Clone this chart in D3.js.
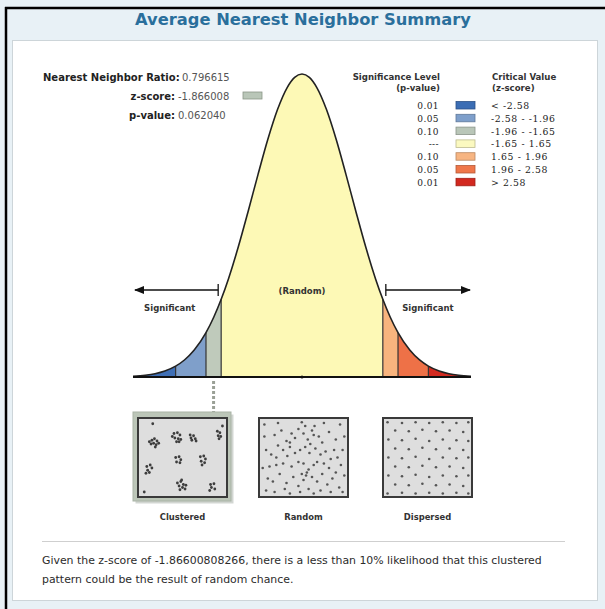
<!DOCTYPE html>
<html><head><meta charset="utf-8">
<script src="https://cdn.jsdelivr.net/npm/d3@7"></script>
<style>body{margin:0;background:#fff}svg{display:block}</style>
</head><body>
<svg id="c" width="605" height="609"></svg>
<script>
// ---------- DATA ----------
const title = "Average Nearest Neighbor Summary";
const statLabels = ["Nearest Neighbor Ratio:", "z-score:", "p-value:"];
const statValues = ["0.796615", "-1.866008", "0.062040"];
const zScore = -1.866008;
const zScoreText = "-1.86600808266";

// standard normal density table (z, density)
const curveZ = [-3.45,-3.2,-3.0,-2.8,-2.58,-2.4,-2.2,-1.96,-1.8,-1.65,-1.5,-1.3,-1.1,-0.9,-0.7,-0.5,-0.3,-0.15,0,
                0.15,0.3,0.5,0.7,0.9,1.1,1.3,1.5,1.65,1.8,1.96,2.2,2.4,2.58,2.8,3.0,3.2,3.45];
const curveD = [0.0010,0.0024,0.0044,0.0079,0.0143,0.0224,0.0355,0.0584,0.0790,0.1023,0.1295,0.1714,0.2179,0.2661,0.3123,0.3521,0.3814,0.3945,0.3989,
                0.3945,0.3814,0.3521,0.3123,0.2661,0.2179,0.1714,0.1295,0.1023,0.0790,0.0584,0.0355,0.0224,0.0143,0.0079,0.0044,0.0024,0.0010];

const bandLo = [-3.45,-2.58,-1.96,-1.65,1.65,1.96,2.58];
const bandHi = [-2.58,-1.96,-1.65,1.65,1.96,2.58,3.45];
const bandColors = ["#3f6fb5","#7f9fca","#bfcabb","#fdf9b6","#f8b47e","#ee7147","#d32a20"];
const swatchColors = ["#3b6db4","#7e9fcb","#b9c6b8","#fbf9c0","#f7b582","#ef774a","#d2281f"];
const pLevels = ["0.01","0.05","0.10","---","0.10","0.05","0.01"];
const critLabels = ["< -2.58","-2.58 - -1.96","-1.96 - -1.65","-1.65 - 1.65","1.65 - 1.96","1.96 - 2.58","> 2.58"];

const patternNames = ["Clustered","Random","Dispersed"];
const clusteredPts = [[15,5],[97,8],[5,96],
 [14,27],[17,25],[20,28],[16,31],[19,33],[22,31],[18,36],[13,32],[11,29],
 [40,18],[44,17],[47,20],[41,24],[45,25],[48,26],[43,29],[38,22],[46,29],
 [59,20],[63,21],[65,25],[61,27],[66,28],[60,24],
 [91,15],[94,17],[92,21],[95,22],[93,25],
 [42,50],[46,49],[48,53],[43,56],[47,57],
 [71,49],[75,48],[77,52],[72,55],[76,57],[73,60],
 [8,62],[12,60],[14,64],[9,67],[11,70],[7,71],
 [44,84],[48,82],[51,86],[46,88],[50,90],[53,92],[47,93],[54,87],[49,80],
 [83,86],[87,85],[84,90],[88,92],[82,94]];
const randomPts = [[4,6],[20,4],[48,3],[52,8],[60,14],[74,4],[93,6],[98,22],[4,22],[16,20],[24,14],[30,28],[36,18],[40,24],
 [44,12],[50,18],[55,26],[58,32],[62,20],[68,22],[72,30],[80,16],[88,26],[96,40],[6,40],[12,46],[20,34],[26,40],[34,36],
 [40,44],[46,40],[52,36],[57,44],[64,38],[70,46],[76,42],[82,52],[90,50],[94,60],[2,64],[10,62],[18,60],[26,58],[36,62],
 [44,56],[50,58],[56,66],[66,56],[74,58],[80,64],[88,70],[98,74],[8,78],[14,82],[22,72],[30,84],[38,76],[44,88],[50,80],
 [54,70],[60,76],[66,82],[72,72],[78,86],[84,78],[92,90],[6,94],[16,96],[28,92],[34,98],[46,96],[56,92],[62,98],[70,94],
 [82,96],[96,96],[31,48],[62,60],[86,40],[18,50],[48,72],[53,74],[34,30],[63,8]];
const dispersedPts = [[3,3],[20,4],[36,3],[52,4],[68,3],[84,4],[98,3],
 [12,14],[28,15],[44,13],[60,15],[76,14],[92,16],
 [4,26],[20,27],[36,25],[52,28],[68,26],[84,27],[98,28],
 [12,38],[28,39],[44,37],[60,39],[76,38],[92,40],
 [4,50],[20,51],[36,49],[52,52],[68,50],[84,51],[98,50],
 [12,62],[28,63],[44,61],[60,63],[76,62],[92,64],
 [4,74],[20,75],[36,73],[52,76],[68,74],[84,75],[98,74],
 [12,86],[28,87],[44,85],[60,87],[76,86],[92,88],
 [3,98],[20,97],[36,98],[52,97],[68,98],[84,97],[98,98]];

const footerLines = ["Given the z-score of " + zScoreText + ", there is a less than 10% likelihood that this clustered",
                     "pattern could be the result of random chance."];

// ---------- DRAW ----------
const svg = d3.select("#c");
const sans = "'DejaVu Sans', Verdana, sans-serif";
const serif = "'DejaVu Serif', 'Liberation Serif', serif";

svg.append("rect").attr("width",605).attr("height",609).attr("fill","#e8f1f6");
svg.append("line").attr("x1",5).attr("x2",605).attr("y1",8).attr("y2",8).attr("stroke","#000").attr("stroke-width",2.5);
svg.append("line").attr("x1",6).attr("x2",6).attr("y1",7).attr("y2",609).attr("stroke","#000").attr("stroke-width",2.5);
svg.append("rect").attr("x",12.5).attr("y",40.5).attr("width",585).attr("height",560)
  .attr("fill","#fff").attr("stroke","#cdd5d9");

svg.append("text").attr("x",303).attr("y",25).attr("text-anchor","middle")
  .attr("font-family",sans).attr("font-weight","bold").attr("font-size",16.3).attr("fill","#2a6f9c").text(title);

// stats
const statY = [81,100,119];
const fs = 10;
statLabels.forEach((l,i)=>{
  const t = svg.append("text").attr("y",statY[i]).attr("font-family",sans).attr("font-size",fs)
    .attr("font-weight","bold").attr("fill","#222").text(l);
  if(i===0){ t.attr("x",43); } else { t.attr("x",175).attr("text-anchor","end"); }
});
svg.append("text").attr("x",182).attr("y",statY[0]).attr("font-family",sans).attr("font-size",fs).attr("fill","#555").text(statValues[0]);
svg.append("text").attr("x",178).attr("y",statY[1]).attr("font-family",sans).attr("font-size",fs).attr("fill","#555").text(statValues[1]);
svg.append("text").attr("x",178).attr("y",statY[2]).attr("font-family",sans).attr("font-size",fs).attr("fill","#555").text(statValues[2]);
svg.append("rect").attr("x",243).attr("y",92).attr("width",19).attr("height",7)
  .attr("fill",swatchColors[2]).attr("stroke","#8a9688").attr("stroke-width",0.8);

// curve
const x = d3.scaleLinear().domain([-3.45,3.45]).range([133,471]);
const y = d3.scaleLinear().domain([0,0.3989]).range([377,74]);
const pts = curveZ.map((z,i)=>({z, d:curveD[i]}));
const area = d3.area().x(p=>x(p.z)).y0(y(0)).y1(p=>y(p.d)).curve(d3.curveMonotoneX);
const line = d3.line().x(p=>x(p.z)).y(p=>y(p.d)).curve(d3.curveMonotoneX);

bandLo.forEach((lo,i)=>{
  const hi = bandHi[i];
  const sub = pts.filter(p=>p.z>=lo-1e-9 && p.z<=hi+1e-9);
  svg.append("path").datum(sub).attr("d",area).attr("fill",bandColors[i]).attr("stroke","none");
});
[-2.58,-1.96,-1.65,1.65,1.96,2.58].forEach(z=>{
  const d = curveD[curveZ.indexOf(z)];
  svg.append("line").attr("x1",x(z)).attr("x2",x(z)).attr("y1",y(0)).attr("y2",y(d))
    .attr("stroke","#333").attr("stroke-width",1.2);
});
svg.append("path").datum(pts).attr("d",line).attr("fill","none").attr("stroke","#222").attr("stroke-width",1.6);
svg.append("line").attr("x1",x(-3.45)).attr("x2",x(3.45)).attr("y1",y(0)).attr("y2",y(0))
  .attr("stroke","#111").attr("stroke-width",2);
svg.append("circle").attr("cx",x(0)).attr("cy",y(0)).attr("r",1.5).attr("fill","#111");

// arrows
const defs = svg.append("defs");
defs.append("marker").attr("id","ah").attr("viewBox","0 0 10 10").attr("refX",9).attr("refY",5)
  .attr("markerWidth",7).attr("markerHeight",7).attr("orient","auto-start-reverse")
  .append("path").attr("d","M0,1 L10,5 L0,9 Z").attr("fill","#111");
const ay = 290;
svg.append("line").attr("x1",x(-1.65)-3).attr("x2",x(-3.45)+2).attr("y1",ay).attr("y2",ay)
  .attr("stroke","#111").attr("stroke-width",1.5).attr("marker-end","url(#ah)");
svg.append("line").attr("x1",x(-1.65)-3).attr("x2",x(-1.65)-3).attr("y1",ay-6).attr("y2",ay+6).attr("stroke","#111").attr("stroke-width",1.3);
svg.append("line").attr("x1",x(1.65)+3).attr("x2",x(3.45)-1).attr("y1",ay).attr("y2",ay)
  .attr("stroke","#111").attr("stroke-width",1.5).attr("marker-end","url(#ah)");
svg.append("line").attr("x1",x(1.65)+3).attr("x2",x(1.65)+3).attr("y1",ay-6).attr("y2",ay+6).attr("stroke","#111").attr("stroke-width",1.3);

const smallFs = 8.5;
svg.append("text").attr("x",x(-2.7)).attr("y",311).attr("text-anchor","middle").attr("font-family",sans)
  .attr("font-weight","bold").attr("font-size",smallFs).attr("fill","#333").text("Significant");
svg.append("text").attr("x",x(2.57)).attr("y",311).attr("text-anchor","middle").attr("font-family",sans)
  .attr("font-weight","bold").attr("font-size",smallFs).attr("fill","#333").text("Significant");
svg.append("text").attr("x",x(0)).attr("y",294).attr("text-anchor","middle").attr("font-family",sans)
  .attr("font-weight","bold").attr("font-size",smallFs).attr("fill","#333").text("(Random)");

// legend
const lgY0 = 109, lgStep = 12.8;
const hdrFs = 8.6;
svg.append("text").attr("x",440).attr("y",80).attr("text-anchor","end").attr("font-family",sans)
  .attr("font-weight","bold").attr("font-size",hdrFs).attr("fill","#333").text("Significance Level");
svg.append("text").attr("x",440).attr("y",91).attr("text-anchor","end").attr("font-family",sans)
  .attr("font-weight","bold").attr("font-size",hdrFs).attr("fill","#333").text("(p-value)");
svg.append("text").attr("x",492).attr("y",80).attr("font-family",sans)
  .attr("font-weight","bold").attr("font-size",hdrFs).attr("fill","#333").text("Critical Value");
svg.append("text").attr("x",492).attr("y",91).attr("font-family",sans)
  .attr("font-weight","bold").attr("font-size",hdrFs).attr("fill","#333").text("(z-score)");
pLevels.forEach((p,i)=>{
  const yy = lgY0 + i*lgStep;
  svg.append("text").attr("x",439).attr("y",yy).attr("text-anchor","end").attr("font-family",serif)
    .attr("font-size",9).attr("letter-spacing",0.4).attr("fill","#222").text(p);
  svg.append("rect").attr("x",456).attr("y",yy-7.5).attr("width",19).attr("height",7.5)
    .attr("fill",swatchColors[i]).attr("stroke",d3.color(swatchColors[i]).darker(0.8)).attr("stroke-width",0.8);
  svg.append("text").attr("x",491).attr("y",yy).attr("font-family",serif)
    .attr("font-size",9.3).attr("letter-spacing",0.6).attr("fill","#222").text(critLabels[i]);
});

// z-score marker (placed mid-band of the band containing z)
const bi = bandLo.findIndex((lo,i)=>zScore>=lo && zScore<bandHi[i]);
const mx = x((bandLo[bi]+bandHi[bi])/2);
svg.append("line").attr("x1",mx).attr("x2",mx).attr("y1",381).attr("y2",412)
  .attr("stroke","#9aa096").attr("stroke-width",3).attr("stroke-dasharray","3,2");

// pattern boxes
const boxX = [138,259,383], boxY = 418, boxW = 89, boxH = 79;
const patternPts = [clusteredPts, randomPts, dispersedPts];
svg.append("rect").attr("x",boxX[0]-4).attr("y",boxY-5).attr("width",boxW+9).attr("height",boxH+10)
  .attr("fill","#7f8a7d").attr("opacity",0.35).attr("transform","translate(1.5,1.5)");
svg.append("rect").attr("x",boxX[0]-5).attr("y",boxY-6).attr("width",boxW+9).attr("height",boxH+10)
  .attr("fill","#bcc6b8").attr("stroke","#a9b3a6");
patternNames.forEach((name,i)=>{
  svg.append("rect").attr("x",boxX[i]).attr("y",boxY).attr("width",boxW).attr("height",boxH)
    .attr("fill","#dedede").attr("stroke","#3a3a3a").attr("stroke-width",2);
  const sx = d3.scaleLinear().domain([0,100]).range([boxX[i]+2,boxX[i]+boxW-2]);
  const sy = d3.scaleLinear().domain([0,100]).range([boxY+2,boxY+boxH-2]);
  svg.append("g").selectAll("circle").data(patternPts[i]).join("circle")
    .attr("cx",d=>sx(d[0])).attr("cy",d=>sy(d[1])).attr("r",i===0?1.4:1.3)
    .attr("fill",i===0?"#3d3d3d":"#555");
  svg.append("text").attr("x",boxX[i]+boxW/2).attr("y",520).attr("text-anchor","middle")
    .attr("font-family",sans).attr("font-weight","bold").attr("font-size",8.4).attr("fill","#333").text(name);
});

// footer
svg.append("line").attr("x1",42).attr("x2",565).attr("y1",541.5).attr("y2",541.5).attr("stroke","#cfcfcf").attr("stroke-width",1.2);
footerLines.forEach((t,i)=>{
  svg.append("text").attr("x",42).attr("y",564+i*19).attr("font-family",sans)
    .attr("font-size",10.9).attr("fill","#2b2b2b").text(t);
});
</script>
</body></html>
